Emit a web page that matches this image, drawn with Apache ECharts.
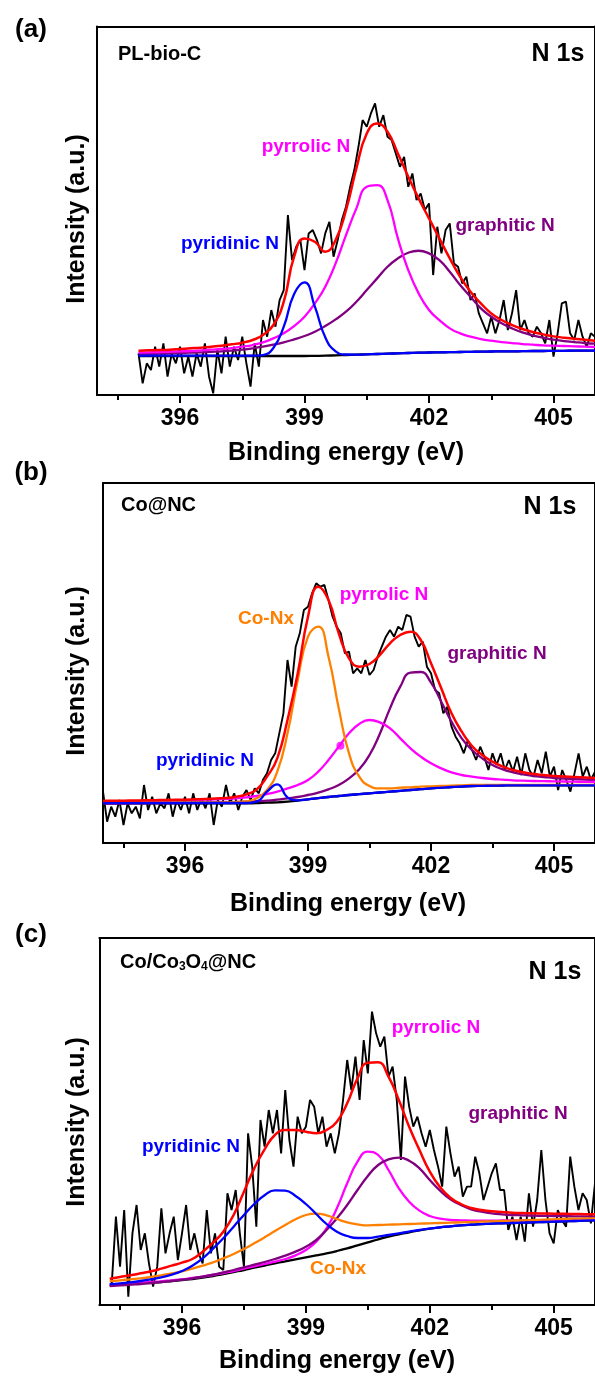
<!DOCTYPE html>
<html><head><meta charset="utf-8">
<script src="https://cdn.jsdelivr.net/npm/echarts@6/dist/echarts.min.js"></script>
<style>html,body{margin:0;padding:0;background:#fff}#c{width:595px;height:1378px}</style>
</head><body><div id="c"></div>
<script>
// ---------- axis / tick labels ----------
const xMin = 394, xMax = 406;
const majorTicks = [396, 399, 402, 405];
const minorTicks = [394.5, 397.5, 400.5, 403.5];
const xTitle = 'Binding energy (eV)';
const yTitle = 'Intensity (a.u.)';
const panelTags = ['(a)', '(b)', '(c)'];
const sampleNames = ['PL-bio-C', 'Co@NC', 'Co/Co3O4@NC'];
const coreLevel = 'N 1s';
const yMaxA = 1106, yMaxB = 1080, yMaxC = 1101;

// ---------- panel (a) PL-bio-C : fits from 395.00 eV, step 0.25 ; raw from 395.0, step 0.1 ----------
const aFitStart = 395.0, aRawStart = 395.0;
const aBaseline = [117,117,117,117,117,117,117,117,117,117,117,117,117,117,117,117,117,117.5,118,119,120,121,122,123,124,125,126,127,127.5,128,128.5,129,129.5,130,130.5,131,131,131.5,132,132,132.5,132.5,133,133,133];
const aPyridinic = [118,118,118,118,118,118,118,118,118,118,118,118,120,141,205,303,338,265,173,131,121.5,121,122,123,124,125,126,127,127.5,128,128.5,129,129.5,130,130.5,131,131,131.5,132,132,132.5,132.5,133,133,133];
const aPyrrolic = [127,128,129,130,131,132,134,136,138,141,145,150,158,170,185,207,235,275,325,395,480,560,625,630,585,470,375,305,255,225,200,185,175,168,163,159,156,153,151,149,148,147,146,145,144];
const aGraphitic = [123,123.5,124,125,126,127,128,129.5,131,133,136,140,145,151,158,167,177,190,207,227,250,280,315,350,385,410,427,433,425,405,370,330,295,260,235,215,200,188,179,172,166,162,159,156,154];
const aEnvelope = [133,134,135,136,138,140,142,145,148,152,157,165,180,210,280,415,470,460,430,465,555,680,785,815,790,725,655,590,530,470,410,355,310,275,245,225,210,198,189,182,176,172,169,166,163];
const aRaw = [125,35,95,75,145,85,155,55,125,95,
  145,65,115,55,125,85,155,55,5,135,
  65,175,85,145,105,175,95,25,155,85,
  225,175,255,205,285,315,540,405,445,465,
  375,485,495,465,425,485,520,415,465,525,
  565,625,675,745,825,805,845,875,805,840,
  775,765,725,685,715,625,665,585,605,555,
  575,360,505,425,495,515,395,385,335,355,
  285,305,245,215,185,235,185,225,285,195,
  245,315,195,225,185,175,205,185,155,225,
  115,185,275,280,185,165,225,175,145,185,
  175];

// ---------- panel (b) Co@NC : fits from 394.00 eV, step 0.25 ; raw from 394.0, step 0.1 ----------
const bFitStart = 394.0, bRawStart = 394.0;
const bBaseline = [119,119,119,119,119,119,119,119,119,119,119,119,119,119,119,119.5,121,122,124,127,131,134.5,138,141,144,146.5,149,151.5,154,156.5,159,161.5,164,166,168,169.5,171,171.5,172,172.5,173,173,173,173,173,173,173,173,173];
const bPyridinic = [120,120,120,120,120,120,120,120,120,120,120,120,120,120,120,124,154,176,137,128,131,134.5,138,141,144,146.5,149,151.5,154,156.5,159,161.5,164,166,168,169.5,171,171.5,172,172.5,173,173,173,173,173,173,173,173,173];
const bCoNx = [122,122,122,122,122,122,122,122,122,122,122,122,122,123,125,134,159,214,329,489,619,649,559,404,269,199,171,164,164,166,167,169,170,171,172,173,174,174,174,174,174,174,174,174,174,174,174,174,174];
const bPyrrolic = [124,124.5,125,125.5,126,126.5,127,127.5,128,129,130,131,132,134,137,141,147,154,164,174,189,214,249,289,329,357,369,362,344,314,284,259,239,224,212,204,199,195,192,190,188,187,186,185.5,185,184.5,184,183.5,183];
const bGraphitic = [118,118.5,118.5,119,119,119.5,119.5,120,120,120.5,121,121.5,122,123,124,125.5,127,130,134,138,144,151,161,174,194,221,264,327,404,469,511,513,481,424,364,314,279,254,234,221,212,206,201,198,195,193.5,192,190.5,189];
const bEnvelope = [127,127,127,127.5,128,128.5,129,129.5,130,131,132,133.5,135,139,146,161,199,254,369,509,679,769,729,629,554,529,537,564,599,624,634,609,539,464,389,334,291,264,244,229,219,212,207,204,201,199.5,198,196.5,195];
const bMarker = [[399.79, 292]];
const bRaw = [154,64,109,79,129,54,119,89,109,74,
  174,99,139,89,119,104,149,79,129,99,
  139,89,149,99,134,104,149,54,129,109,
  174,119,149,99,139,159,129,164,149,189,
  209,249,269,329,389,549,469,589,629,699,
  709,749,779,769,774,729,679,649,629,569,
  574,509,524,509,549,504,519,559,589,619,
  639,619,649,639,684,679,619,589,604,529,
  509,459,449,389,409,349,319,299,269,309,
  279,249,289,259,219,269,234,269,219,249,
  214,259,204,269,219,199,249,209,274,199,
  229,159,219,189,154,209,269,199,229,189,
  214];

// ---------- panel (c) Co/Co3O4@NC : fits from 394.25 eV, step 0.25 ; raw from 394.3, step 0.1 ----------
const cFitStart = 394.25, cRawStart = 394.3;
const cBaseline = [59,61,63,65,67,69,72,75,78,82,87,93,99,105,112,118,125,131,137,143,149,155,162,170,179,188,197,205,212,218,224,229,233,236,239,241,242.5,244,245,246,247,248,249,250,251,252,253,254];
const cPyridinic = [63,65,68,72,77,83,91,102,118,140,169,200,235,270,303,329,344,343,327,303,273,243,220,207,201,201,205,210,215,220,225,229,233,236,239,241,242.5,244,245,246,247,248,249,250,251,252,253,254];
const cCoNx = [72,74,77,80,84,89,95,101,109,118,128,140,153,168,185,203,222,240,257,270,274,269,258,248,242,239,240,241,242,243,244,245,246,247,248,249,250,251,252,253,254,255,256,257,258,259,259.5,260];
const cPyrrolic = [60,62,64,66,69,71,74,77,81,85,90,96,102,109,116,123,130,138,149,165,190,230,290,365,430,460,450,405,350,310,283,267,259,255,254,253,253,253,253.5,254,254,254.5,254.5,255,255.5,256,256.5,257];
const cGraphitic = [57,59,61,63,66,69,72,76,80,85,91,98,105,113,121,129,138,148,160,175,195,225,260,300,345,387,420,437,442,433,410,375,343,317,300,287,280,275,272,270,269,268,267.5,267,266.5,266,265.5,265];
const cEnvelope = [79,84,89,95,101,109,118,127,138,160,187,220,270,340,410,467,510,525,525,520,515,525,550,605,680,727,728,685,615,535,465,400,353,322,303,291,285,281,279,277,276,275,274.5,274,273.5,273,272.5,272];
const cRaw = [65,265,115,285,25,215,300,
  165,215,125,55,115,290,155,215,265,135,
  215,300,165,215,155,125,285,155,215,115,
  105,335,285,345,215,115,515,415,235,555,
  475,585,515,585,455,645,495,415,565,515,
  535,615,595,515,565,475,515,455,515,615,
  735,645,745,615,795,695,880,815,775,805,
  685,715,615,435,685,595,535,565,515,475,
  525,465,415,355,535,455,385,415,325,355,
  355,445,395,315,355,395,425,345,345,225,
  265,195,265,190,335,235,315,465,315,215,
  185,285,255,235,445,355,285,335,315,245,
  365];

// ---------- rendering ----------
const FONT = '"Liberation Sans", Arial, Helvetica, sans-serif';
const C = {raw:'#000000', base:'#000000', pyridinic:'#0000ff', pyrrolic:'#ff00ff', graphitic:'#800080', conx:'#ff8000', env:'#ff0000'};

function withEnergy(start, step, vals) {
  return vals.map((v, i) => [Math.round((start + i * step) * 100) / 100, v]);
}

const grids = [
  {left: 97, top: 26.5, width: 498.6, height: 368.5},
  {left: 103, top: 483, width: 493.3, height: 360},
  {left: 99.4, top: 938, width: 497.4, height: 367}
];
const yMax = [yMaxA, yMaxB, yMaxC];

const xAxes = [], yAxes = [];
const axisLine = {show: true, onZero: false, lineStyle: {color: '#000', width: 2}};
grids.forEach((g, i) => {
  xAxes.push({type: 'value', gridIndex: i, min: xMin, max: xMax, position: 'bottom',
    axisLine: axisLine,
    axisTick: {show: true, customValues: majorTicks, length: 8, inside: false, lineStyle: {color: '#000', width: 2}},
    axisLabel: {show: true, customValues: majorTicks, margin: 12, color: '#000', fontSize: 23, fontWeight: 'bold', fontFamily: FONT},
    splitLine: {show: false}});
  xAxes.push({type: 'value', gridIndex: i, min: xMin, max: xMax, position: 'bottom',
    axisLine: {show: false},
    axisTick: {show: true, customValues: minorTicks, length: 5, inside: false, lineStyle: {color: '#000', width: 2}},
    axisLabel: {show: false}, splitLine: {show: false}});
  xAxes.push({type: 'value', gridIndex: i, min: xMin, max: xMax, position: 'top',
    axisLine: axisLine, axisTick: {show: false}, axisLabel: {show: false}, splitLine: {show: false}});
  yAxes.push({type: 'value', gridIndex: i, min: 0, max: yMax[i], position: 'left',
    axisLine: axisLine, axisTick: {show: false}, axisLabel: {show: false}, splitLine: {show: false}});
  yAxes.push({type: 'value', gridIndex: i, min: 0, max: yMax[i], position: 'right',
    axisLine: axisLine, axisTick: {show: false}, axisLabel: {show: false}, splitLine: {show: false}});
});

function line(p, data, color, width, smooth, z) {
  return {type: 'line', xAxisIndex: p * 3, yAxisIndex: p * 2, data: data, symbol: 'none', showSymbol: false,
    smooth: smooth, lineStyle: {color: color, width: width}, itemStyle: {color: color}, z: z,
    animation: false, silent: true, clip: true};
}

const series = [
  line(0, withEnergy(aRawStart, 0.1, aRaw), C.raw, 1.9, false, 2),
  line(0, withEnergy(aFitStart, 0.25, aBaseline), C.base, 2.3, true, 3),
  line(0, withEnergy(aFitStart, 0.25, aGraphitic), C.graphitic, 2.3, true, 4),
  line(0, withEnergy(aFitStart, 0.25, aPyrrolic), C.pyrrolic, 2.3, true, 5),
  line(0, withEnergy(aFitStart, 0.25, aPyridinic), C.pyridinic, 2.3, true, 6),
  line(0, withEnergy(aFitStart, 0.25, aEnvelope), C.env, 2.5, true, 7),

  line(1, withEnergy(bRawStart, 0.1, bRaw), C.raw, 1.9, false, 2),
  line(1, withEnergy(bFitStart, 0.25, bBaseline), C.base, 2.3, true, 3),
  line(1, withEnergy(bFitStart, 0.25, bGraphitic), C.graphitic, 2.3, true, 4),
  line(1, withEnergy(bFitStart, 0.25, bPyrrolic), C.pyrrolic, 2.3, true, 5),
  line(1, withEnergy(bFitStart, 0.25, bCoNx), C.conx, 2.3, true, 6),
  line(1, withEnergy(bFitStart, 0.25, bPyridinic), C.pyridinic, 2.3, true, 6),
  line(1, withEnergy(bFitStart, 0.25, bEnvelope), C.env, 2.5, true, 7),
  {type: 'scatter', xAxisIndex: 3, yAxisIndex: 2, data: bMarker, symbol: 'circle', symbolSize: 8,
    itemStyle: {color: C.pyrrolic}, z: 8, animation: false, silent: true},

  line(2, withEnergy(cRawStart, 0.1, cRaw), C.raw, 1.9, false, 2),
  line(2, withEnergy(cFitStart, 0.25, cBaseline), C.base, 2.3, true, 3),
  line(2, withEnergy(cFitStart, 0.25, cPyrrolic), C.pyrrolic, 2.3, true, 4),
  line(2, withEnergy(cFitStart, 0.25, cGraphitic), C.graphitic, 2.3, true, 5),
  line(2, withEnergy(cFitStart, 0.25, cCoNx), C.conx, 2.3, true, 6),
  line(2, withEnergy(cFitStart, 0.25, cPyridinic), C.pyridinic, 2.3, true, 6),
  line(2, withEnergy(cFitStart, 0.25, cEnvelope), C.env, 2.5, true, 7)
];

function txt(x, y, text, size, color, align, rot) {
  const el = {type: 'text', x: x, y: y, silent: true, z: 100,
    style: {text: text, fill: color || '#000', font: 'bold ' + size + 'px ' + FONT,
      align: align || 'center', verticalAlign: 'middle', textAlign: align || 'center', textVerticalAlign: 'middle'}};
  if (rot) el.rotation = rot;
  return el;
}

const graphic = [
  // panel (a)
  txt(31, 30, panelTags[0], 26),
  txt(118, 54, sampleNames[0], 20, '#000', 'left'),
  txt(558, 54, coreLevel, 25),
  txt(306, 147, 'pyrrolic N', 19, C.pyrrolic),
  txt(230, 244, 'pyridinic N', 19, C.pyridinic),
  txt(505, 226, 'graphitic N', 19, C.graphitic),
  txt(346, 453, xTitle, 25),
  txt(77, 219, yTitle, 25, '#000', 'center', Math.PI / 2),
  // panel (b)
  txt(31, 473, panelTags[1], 26),
  txt(121, 505, sampleNames[1], 20, '#000', 'left'),
  txt(550, 507, coreLevel, 25),
  txt(266, 619, 'Co-Nx', 19, C.conx),
  txt(384, 595, 'pyrrolic N', 19, C.pyrrolic),
  txt(497, 654, 'graphitic N', 19, C.graphitic),
  txt(205, 761, 'pyridinic N', 19, C.pyridinic),
  txt(348, 904, xTitle, 25),
  txt(77, 671, yTitle, 25, '#000', 'center', Math.PI / 2),
  // panel (c)
  txt(31, 935, panelTags[2], 26),
  {type: 'text', x: 120, y: 962, silent: true, z: 100,
    style: {text: '{n|Co/Co}{s|3}{n|O}{s|4}{n|@NC}', fill: '#000', align: 'left', verticalAlign: 'middle',
      textAlign: 'left', textVerticalAlign: 'middle', font: 'bold 20px ' + FONT,
      rich: {
        n: {fontSize: 20, fontWeight: 'bold', fontFamily: FONT, lineHeight: 22, fill: '#000', color: '#000'},
        s: {fontSize: 12, fontWeight: 'bold', fontFamily: FONT, lineHeight: 13, verticalAlign: 'bottom', fill: '#000', color: '#000'}
      }}},
  txt(555, 972, coreLevel, 25),
  txt(436, 1028, 'pyrrolic N', 19, C.pyrrolic),
  txt(518, 1114, 'graphitic N', 19, C.graphitic),
  txt(191, 1147, 'pyridinic N', 19, C.pyridinic),
  txt(338, 1269, 'Co-Nx', 19, C.conx),
  txt(337, 1361, xTitle, 25),
  txt(77, 1122, yTitle, 25, '#000', 'center', Math.PI / 2)
];

const chart = echarts.init(document.getElementById('c'), null, {renderer: 'canvas'});
chart.setOption({
  animation: false,
  backgroundColor: '#ffffff',
  grid: grids.map(g => Object.assign({containLabel: false}, g)),
  xAxis: xAxes,
  yAxis: yAxes,
  series: series,
  graphic: graphic
});
</script></body></html>
